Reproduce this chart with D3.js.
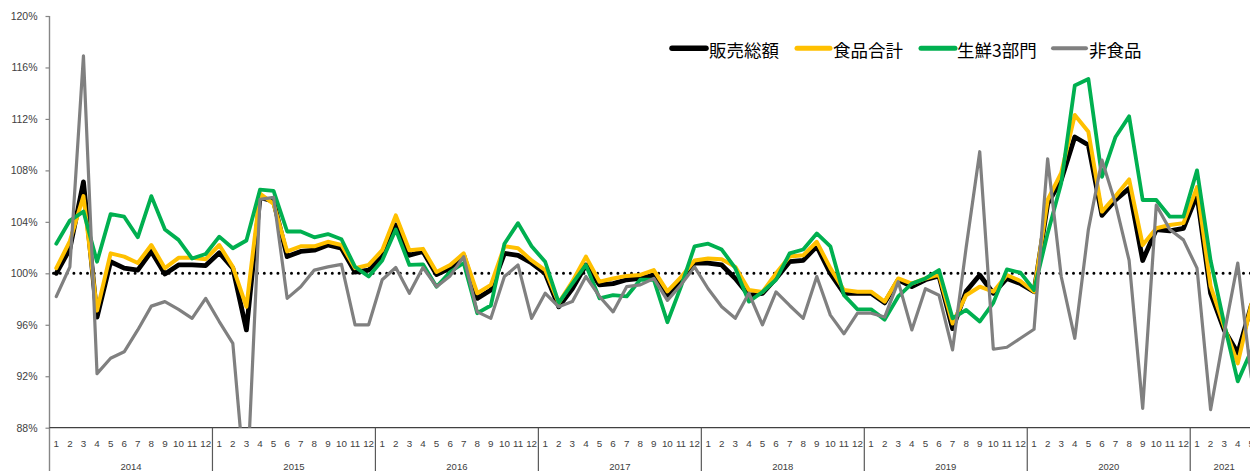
<!DOCTYPE html>
<html>
<head>
<meta charset="utf-8">
<script src="https://cdn.jsdelivr.net/npm/d3@7"></script>
<style>
  html, body { margin: 0; padding: 0; background: #ffffff; overflow: hidden; }
  svg { display: block; }
</style>
</head>
<body>
<svg id="chart" width="1250" height="471"></svg>
<script>
// Monthly year-on-year ratios (%), Jan 2014 – May 2021
const years = ["2014", "2015", "2016", "2017", "2018", "2019", "2020", "2021"];
const monthsInYear = [12, 12, 12, 12, 12, 12, 12, 5];

const seriesNames = ["販売総額", "食品合計", "生鮮3部門", "非食品"];

// 販売総額
const sales = [
  100.0, 101.9, 107.1, 96.6, 100.9, 100.4, 100.25, 101.7, 99.95, 100.65, 100.65, 100.6,
  101.6, 100.4, 95.6, 105.9, 105.6, 101.3, 101.7, 101.8, 102.2, 101.95, 100.1, 100.25,
  101.3, 103.75, 101.4, 101.7, 99.9, 100.4, 101.4, 98.05, 98.7, 101.55, 101.4, 100.8,
  100.0, 97.4, 98.8, 100.65, 99.1, 99.2, 99.5, 99.6, 99.87, 98.3, 99.5, 100.8,
  100.8, 100.65, 99.6, 98.3, 98.45, 99.6, 100.9, 101.0, 102.1, 100.0, 98.45, 98.45,
  98.45, 97.7, 99.5, 98.96, 99.5, 99.8, 95.7, 98.6, 99.87, 98.45, 99.6, 99.2,
  98.57, 105.4, 107.25, 110.6, 109.97, 104.5, 105.7, 106.6, 101.0, 103.4, 103.3, 103.5,
  106.1, 98.45, 95.6, 93.8, 97.5
];

// 食品合計
const food = [
  100.4, 102.5, 106.0, 97.1, 101.55, 101.3, 100.8, 102.2, 100.4, 101.2, 101.2, 101.1,
  102.2, 100.5, 97.4, 106.2, 105.4, 101.7, 102.1, 102.1, 102.45, 102.2, 100.4, 100.65,
  101.8, 104.5, 101.8, 101.9, 100.1, 100.65, 101.55, 98.45, 99.1, 102.1, 101.95, 101.0,
  100.25, 97.7, 99.35, 101.3, 99.35, 99.6, 99.8, 99.87, 100.25, 98.6, 99.7, 101.0,
  101.15, 101.1, 100.5, 98.7, 98.55, 100.0, 101.3, 101.4, 102.45, 100.4, 98.7, 98.57,
  98.57, 97.8, 99.6, 99.2, 99.6, 99.9, 96.1, 98.3, 98.96, 98.57, 99.87, 99.4,
  98.57, 105.7, 107.8, 112.3, 111.0, 104.8, 106.0, 107.3, 102.2, 103.5, 103.75, 103.9,
  106.7, 99.0, 95.85, 93.0, 97.6
];

// 生鮮3部門
const fresh = [
  102.3, 104.1, 104.8, 100.9, 104.6, 104.4, 102.8, 106.0, 103.4, 102.6, 101.15, 101.5,
  102.85, 101.95, 102.55, 106.5, 106.4, 103.25, 103.25, 102.8, 103.05, 102.65, 100.5, 99.75,
  101.0, 103.4, 100.65, 100.7, 98.96, 100.1, 100.8, 96.9, 97.5, 102.3, 103.9, 102.1,
  100.9, 97.7, 99.2, 100.65, 98.05, 98.3, 98.2, 99.5, 99.5, 96.2, 98.96, 102.1,
  102.3, 101.85, 100.4, 97.8, 98.55, 99.5, 101.55, 101.85, 103.1, 102.1, 98.3, 97.2,
  97.2, 96.4, 98.2, 99.2, 99.6, 100.25, 96.5, 97.15, 96.25, 97.7, 100.3, 100.05,
  98.7, 103.1, 107.0, 114.6, 115.1, 107.5, 110.6, 112.2, 105.7, 105.7, 104.4, 104.4,
  108.0, 101.0, 96.1, 91.6, 94.0
];

// 非食品
const nonFood = [
  98.2, 100.5, 116.9, 92.2, 93.4, 93.9, 95.6, 97.45, 97.8, 97.2, 96.5, 98.05,
  96.25, 94.55, 82.5, 105.75, 105.9, 98.05, 98.96, 100.25, 100.5, 100.7, 96.0, 96.0,
  99.5, 100.45, 98.45, 100.45, 98.96, 99.8, 101.3, 97.0, 96.5, 99.75, 100.65, 96.5,
  98.45, 97.4, 97.8, 99.75, 98.2, 97.0, 98.96, 99.1, 99.6, 97.9, 99.1, 100.5,
  98.8, 97.4, 96.5, 98.45, 96.0, 98.55, 97.5, 96.5, 99.75, 96.75, 95.3, 96.9,
  96.9, 96.6, 99.35, 95.6, 98.8, 98.3, 94.05, 102.0, 109.45, 94.1, 94.25, 94.95,
  95.65, 108.9, 99.75, 94.95, 103.4, 108.8, 105.4, 101.0, 89.5, 105.3, 103.4, 102.6,
  100.4, 89.4, 95.3, 100.8, 91.9
];

const yTicks = [88, 92, 96, 100, 104, 108, 112, 116, 120];
const baseline = 100;

const colors = ["#000000", "#FFC000", "#00B050", "#808080"];
const widths = [4.8, 4.0, 3.8, 3.2];
const seriesValues = [sales, food, fresh, nonFood];

// Build the month categories from the year list
const categories = [];
years.forEach((y, yi) => {
  for (let m = 1; m <= monthsInYear[yi]; m++) categories.push({ year: y, month: m });
});

const svg = d3.select("#chart");
const plot = { left: 49.5, top: 16, bottom: 427.7 };
const band = 13.58;
plot.right = plot.left + categories.length * band;

const x = d3.scaleBand()
  .domain(d3.range(categories.length))
  .range([plot.left, plot.right])
  .padding(0);
const xc = i => x(i) + x.bandwidth() / 2;

const y = d3.scaleLinear().domain([88, 120]).range([plot.bottom, plot.top]);

const labelFont = "'Liberation Sans', Arial, sans-serif";

// Value axis
const yAxis = d3.axisLeft(y)
  .tickValues(yTicks)
  .tickFormat(d => d + "%")
  .tickSize(4)
  .tickPadding(8);

const yg = svg.append("g")
  .attr("transform", `translate(${plot.left},0)`)
  .call(yAxis);
yg.select(".domain").remove();
yg.selectAll(".tick line").attr("stroke", "#868686").attr("stroke-width", 1.2);
yg.selectAll(".tick text")
  .attr("fill", "#404040")
  .style("font-family", labelFont)
  .style("font-size", "10.5px");

svg.append("line")
  .attr("x1", plot.left).attr("x2", plot.left)
  .attr("y1", plot.top).attr("y2", 471)
  .attr("stroke", "#868686").attr("stroke-width", 1.4);

// Category axis
svg.append("line")
  .attr("x1", plot.left).attr("x2", plot.right)
  .attr("y1", plot.bottom).attr("y2", plot.bottom)
  .attr("stroke", "#404040").attr("stroke-width", 1.2);

// Year groups
let start = 0;
const yearSpans = years.map((yr, yi) => {
  const s = { year: yr, first: start, last: start + monthsInYear[yi] - 1 };
  start += monthsInYear[yi];
  return s;
});

svg.append("g").selectAll("line")
  .data(yearSpans.slice(1))
  .join("line")
  .attr("x1", d => x(d.first)).attr("x2", d => x(d.first))
  .attr("y1", plot.bottom).attr("y2", 471)
  .attr("stroke", "#595959").attr("stroke-width", 1.2);

// Month labels
svg.append("g").selectAll("text")
  .data(categories)
  .join("text")
  .attr("x", (d, i) => xc(i))
  .attr("y", 443.5)
  .attr("text-anchor", "middle")
  .attr("dominant-baseline", "central")
  .attr("fill", "#404040")
  .style("font-family", labelFont)
  .style("font-size", "9.8px")
  .text(d => d.month);

// Year labels, centred under the months of each year
svg.append("g").selectAll("text")
  .data(yearSpans)
  .join("text")
  .attr("x", d => (x(d.first) + x(d.last) + x.bandwidth()) / 2)
  .attr("y", 466)
  .attr("text-anchor", "middle")
  .attr("dominant-baseline", "central")
  .attr("fill", "#404040")
  .style("font-family", labelFont)
  .style("font-size", "9.5px")
  .text(d => d.year);

// Clip region for the plotted lines
svg.append("defs").append("clipPath").attr("id", "plotClip")
  .append("rect")
  .attr("x", plot.left).attr("y", plot.top)
  .attr("width", plot.right - plot.left)
  .attr("height", plot.bottom - plot.top);

// 100% reference line
svg.append("line")
  .attr("x1", plot.left + 4).attr("x2", plot.right)
  .attr("y1", y(baseline)).attr("y2", y(baseline))
  .attr("stroke", "#000")
  .attr("stroke-width", 3)
  .attr("stroke-linecap", "round")
  .attr("stroke-dasharray", "0 6.8");

// Series lines
const line = d3.line()
  .x((d, i) => xc(i))
  .y(d => y(d));

const lines = svg.append("g").attr("clip-path", "url(#plotClip)");
seriesValues.forEach((vals, si) => {
  lines.append("path")
    .datum(vals)
    .attr("d", line)
    .attr("fill", "none")
    .attr("stroke", colors[si])
    .attr("stroke-width", widths[si])
    .attr("stroke-linejoin", "round")
    .attr("stroke-linecap", "round");
});

// Legend
const legendItems = [
  { x1: 672, x2: 706, tx: 709 },
  { x1: 797, x2: 830, tx: 833 },
  { x1: 921, x2: 955, tx: 957 },
  { x1: 1053, x2: 1086, tx: 1089 }
];
const legend = svg.append("g");
legendItems.forEach((it, i) => {
  legend.append("line")
    .attr("x1", it.x1).attr("x2", it.x2)
    .attr("y1", 48.3).attr("y2", 48.3)
    .attr("stroke", colors[i])
    .attr("stroke-width", i === 0 ? 5.5 : (i === 3 ? 4 : 5))
    .attr("stroke-linecap", "round");
  legend.append("text")
    .attr("x", it.tx)
    .attr("y", 49.2)
    .attr("dominant-baseline", "central")
    .attr("fill", "#000")
    .style("font-family", "'Noto Sans CJK JP', sans-serif")
    .style("font-size", "17.5px")
    .text(seriesNames[i]);
});
</script>
</body>
</html>
